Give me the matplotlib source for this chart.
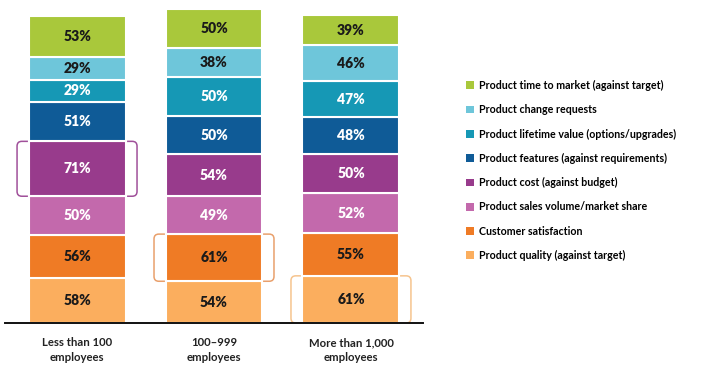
import numpy as np
import matplotlib
matplotlib.use("Agg")
import matplotlib.pyplot as plt
from matplotlib.patches import Patch, FancyBboxPatch

plt.rcParams['font.family'] = ['Lato', 'DejaVu Sans']

categories = ['Less than 100\nemployees', '100\u2013999\nemployees', 'More than 1,000\nemployees']

# stack order bottom -> top
series = ['Product quality (against target)',
          'Customer satisfaction',
          'Product sales volume/market share',
          'Product cost (against budget)',
          'Product features (against requirements)',
          'Product lifetime value (options/upgrades)',
          'Product change requests',
          'Product time to market (against target)']

values = [[58, 54, 61],
          [56, 61, 55],
          [50, 49, 52],
          [71, 54, 50],
          [51, 50, 48],
          [29, 50, 47],
          [29, 38, 46],
          [53, 50, 39]]

colors = ['#FBAE5E', '#EF7B25', '#C369AC', '#983B8C',
          '#0F5B97', '#1698B5', '#6EC6DA', '#A9C83B']
text_colors = ['#1a1a1a', '#1a1a1a', 'white', 'white',
               'white', 'white', '#1a1a1a', '#1a1a1a']

# highlighted cells: (series index, category index, edge colour)
highlights = [(3, 0, '#A0509A'), (1, 1, '#E9A06C'), (0, 2, '#F6C48E')]

W, H = 701, 376
fig = plt.figure(figsize=(W / 100, H / 100), dpi=100)
ax = fig.add_axes([5 / W, 53 / H, 418 / W, 323 / H])

x = np.arange(len(categories))
bw = 0.708
ymax = 323 / 0.773
ax.set_xlim(-0.526, 2.526)
ax.set_ylim(0, ymax)

bottom = np.zeros(len(categories))
bottoms = []
for i, name in enumerate(series):
    v = np.array(values[i], dtype=float)
    ax.bar(x, v, bottom=bottom, width=bw, color=colors[i],
           edgecolor='white', linewidth=1.5, zorder=2, label=name)
    for j in range(len(x)):
        ax.text(x[j], bottom[j] + v[j] / 2, f'{values[i][j]}%', ha='center',
                va='center', fontsize=10, fontweight='heavy',
                color=text_colors[i], zorder=4)
    bottoms.append(bottom.copy())
    bottom = bottom + v

# rounded outline boxes behind selected cells
px_x = 418 / 3.052
px_y = 0.773
bw_box = 0.876
for si, ci, ec in highlights:
    b = bottoms[si][ci]
    h = values[si][ci]
    box = FancyBboxPatch((x[ci] - bw_box / 2, b), bw_box, h,
                         boxstyle='round,pad=0,rounding_size=0.035',
                         mutation_aspect=px_x / px_y,
                         facecolor='white', edgecolor=ec, linewidth=1.1,
                         zorder=1)
    ax.add_patch(box)

ax.set_xticks(x)
ax.set_xticklabels(categories, fontsize=8.2, color='#222222',
                   fontweight='bold', linespacing=1.45)
ax.tick_params(axis='x', length=0, pad=10)
ax.set_yticks([])
for s in ['top', 'left', 'right']:
    ax.spines[s].set_visible(False)
ax.spines['bottom'].set_linewidth(1.4)
ax.spines['bottom'].set_color('#111111')
ax.spines['bottom'].set_zorder(5)

handles = [Patch(facecolor=colors[i], edgecolor='none', label=series[i])
           for i in range(len(series) - 1, -1, -1)]
fig.legend(handles=handles, loc='upper left', bbox_to_anchor=(466 / W, 1 - 80 / H),
           frameon=False, handlelength=0.72, handleheight=0.72,
           handletextpad=0.45, labelspacing=1.24, borderpad=0, borderaxespad=0,
           prop={'weight': 'bold', 'size': 7.7})

fig.savefig('out.png', dpi=100)
